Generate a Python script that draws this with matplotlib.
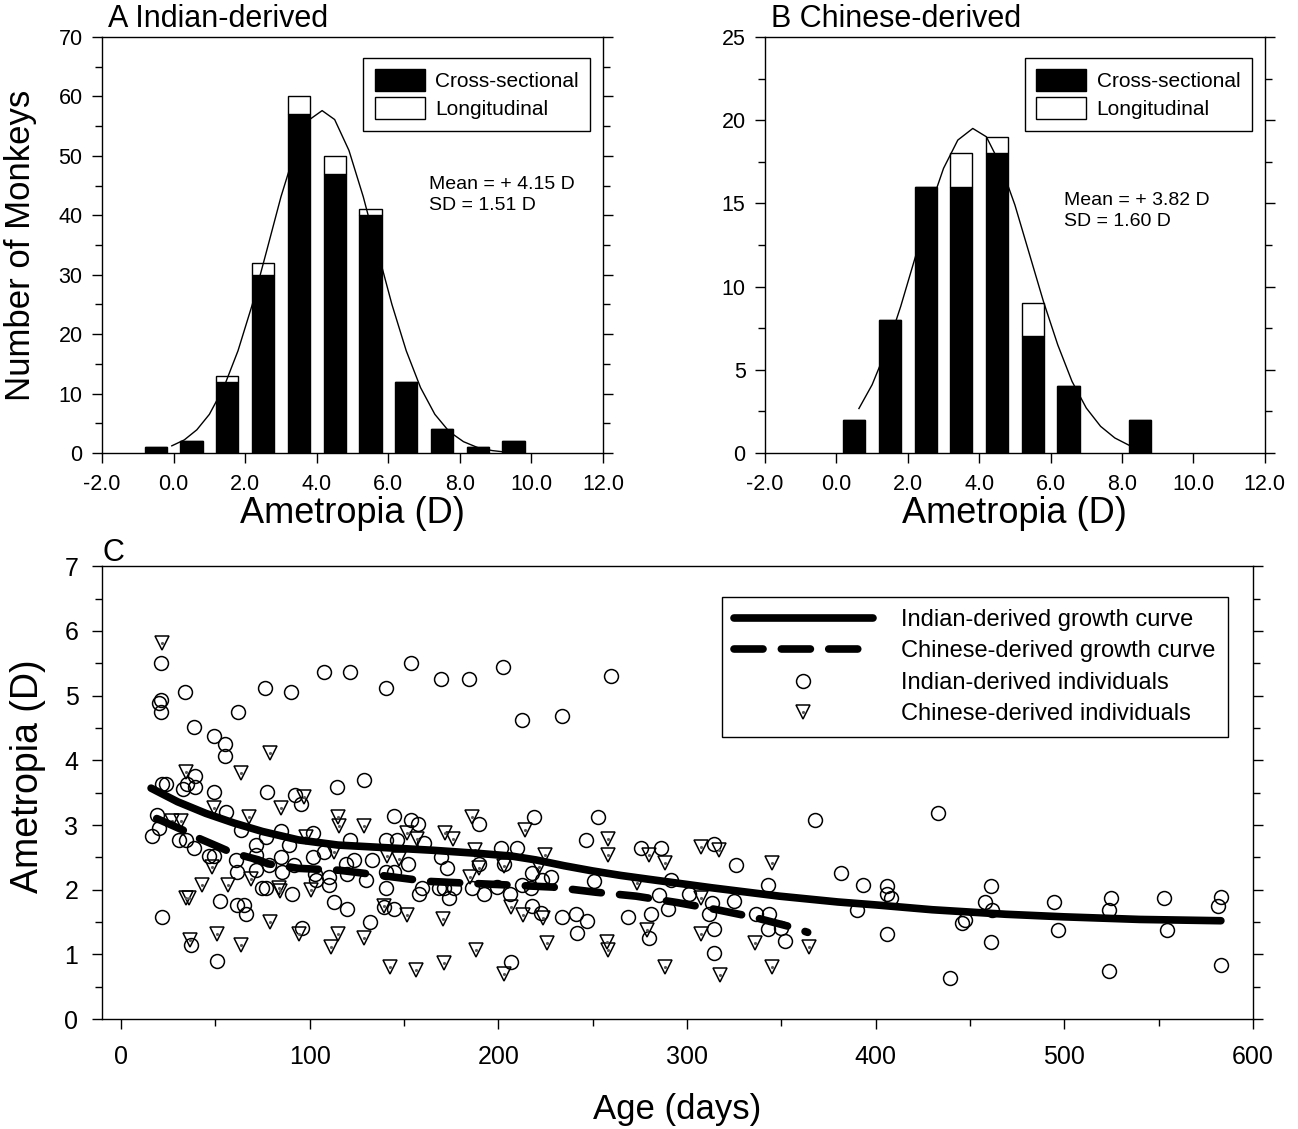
import matplotlib
matplotlib.use('Agg')
import matplotlib.pyplot as plt
from matplotlib.ticker import MultipleLocator
from matplotlib.legend_handler import HandlerTuple

plt.rcParams['font.family'] = ['Liberation Sans', 'DejaVu Sans']

#%% ------------------------------------------------
#  Histogram data (bin centres, counts)
bins_a = [-0.5, 0.5, 1.5, 2.5, 3.5, 4.5, 5.5, 6.5, 7.5, 8.5, 9.5]
cross_a = [1, 2, 12, 30, 57, 47, 40, 12, 4, 1, 2]
longi_a = [0, 0, 1, 2, 3, 3, 1, 0, 0, 0, 0]

bins_b = [0.5, 1.5, 2.5, 3.5, 4.5, 5.5, 6.5, 8.5]
cross_b = [2, 8, 16, 16, 18, 7, 4, 2]
longi_b = [0, 0, 0, 2, 1, 2, 0, 0]

# normal curves
curve_a_x = [-0.05, 0.3, 0.65, 1.0, 1.4, 1.8, 2.2, 2.6, 3.0, 3.4, 3.8, 4.15, 4.5,
             4.9, 5.3, 5.7, 6.1, 6.5, 6.9, 7.3, 7.7, 8.1, 8.5, 8.9, 9.2]
curve_a_y = [1.2, 2.2, 3.9, 6.5, 11.0, 17.2, 25.0, 34.0, 43.1, 50.9, 56.1, 57.6, 56.1,
             50.9, 43.1, 34.0, 25.0, 17.2, 11.0, 6.5, 3.6, 1.9, 0.9, 0.4, 0.2]

curve_b_x = [0.63, 1.0, 1.4, 1.8, 2.2, 2.6, 3.0, 3.4, 3.82, 4.2, 4.6, 5.0, 5.4,
             5.8, 6.2, 6.6, 7.0, 7.4, 7.8, 8.2]
curve_b_y = [2.67, 4.1, 6.2, 8.8, 11.7, 14.6, 17.1, 18.8, 19.5, 19.0, 17.3, 14.9, 12.0,
             9.1, 6.5, 4.3, 2.7, 1.6, 0.9, 0.46]

hist_xticks = [-2, 0, 2, 4, 6, 8, 10, 12]
hist_xticklabels = ['-2.0', '0.0', '2.0', '4.0', '6.0', '8.0', '10.0', '12.0']

#%% ------------------------------------------------
#  Growth curves
indian_curve_age = [16, 30, 45, 60, 75, 94, 115, 140, 165, 190, 207, 220, 235, 250, 265,
                    280, 313, 349, 380, 402, 430, 469, 500, 540, 583]
indian_curve_val = [3.57, 3.36, 3.18, 3.03, 2.90, 2.77, 2.69, 2.65, 2.61, 2.56, 2.52, 2.46,
                    2.37, 2.29, 2.22, 2.16, 2.03, 1.90, 1.81, 1.76, 1.69, 1.62, 1.58, 1.54,
                    1.52]

chinese_curve_age = [19, 33, 40, 52, 59, 73, 78, 94, 116, 138, 162, 184, 207, 229, 252,
                     273, 295, 316, 336, 357, 364]
chinese_curve_val = [3.10, 2.92, 2.81, 2.66, 2.57, 2.46, 2.40, 2.33, 2.30, 2.22, 2.13, 2.10,
                     2.07, 2.04, 1.96, 1.90, 1.80, 1.69, 1.57, 1.41, 1.34]

# individuals
indian_age = [21.4, 33.9, 76.3, 90.4, 21.4, 20.1, 21.4, 62.2, 38.9, 49.3, 55.1, 55.1, 39.2,
              107.7, 121.4, 140.3, 153.5, 169.4, 184.7,
              202.6, 259.5, 212.7, 233.7,
              21.9, 23.7, 33.0, 35.0, 39.4,
              49.3, 77.2, 92.5, 95.7, 55.5, 19.2, 20.1, 16.6, 63.4, 84.6, 76.7, 89.0, 102.0,
              30.7, 34.3, 38.7, 71.4, 102.0, 46.6, 49.3, 60.8, 71.4, 85.0, 78.4, 91.7, 85.5,
              61.7, 71.4, 103.0, 74.9, 76.7, 90.5, 52.5, 61.7, 65.2, 66.1, 21.9, 96.1, 36.9,
              51.0,
              128.8, 114.6, 144.7, 189.7, 153.5, 157.5, 121.2, 140.3, 146.5, 160.6, 201.2,
              107.6, 169.4, 123.5, 133.2, 152.3, 189.7, 203.0, 119.1, 173.0, 140.3, 144.7,
              110.2, 119.9, 129.7, 103.2, 110.2, 140.3, 159.7, 157.9, 168.5, 171.2, 176.5,
              186.2, 192.4, 173.8, 199.4, 112.9, 119.6, 139.4, 144.7, 132.0, 206.7,
              218.9, 252.9, 246.6, 209.7, 218.0, 227.7, 223.3, 212.4, 217.1, 206.1, 250.7,
              275.7, 286.5, 291.3, 301.0, 314.3, 326.1, 343.0, 367.8, 381.9, 393.2, 389.9,
              218.0, 222.9, 233.9, 241.0, 247.1, 241.8, 268.8, 281.0, 290.0, 285.1, 313.4,
              311.6, 324.8, 279.8, 314.3, 314.3, 352.2, 343.0, 349.6, 336.8, 343.4,
              433.1, 406.1, 406.1, 408.4, 406.1, 439.3, 445.8, 447.3, 458.2, 461.2, 461.7,
              461.2, 494.4, 496.5, 524.9, 523.6, 523.6, 552.7, 554.5, 583.3, 581.5, 582.8]
indian_ametropia = [5.50, 5.06, 5.12, 5.06, 4.94, 4.88, 4.75, 4.75, 4.51, 4.37, 4.25, 4.07, 3.76,
                    5.37, 5.37, 5.12, 5.50, 5.25, 5.25,
                    5.45, 5.30, 4.63, 4.69,
                    3.64, 3.64, 3.56, 3.64, 3.58,
                    3.51, 3.51, 3.46, 3.33, 3.20, 3.15, 2.95, 2.83, 2.92, 2.90, 2.82, 2.69, 2.87,
                    2.77, 2.77, 2.64, 2.69, 2.51, 2.52, 2.52, 2.46, 2.53, 2.51, 2.38, 2.38, 2.28,
                    2.28, 2.30, 2.25, 2.02, 2.02, 1.94, 1.83, 1.76, 1.76, 1.63, 1.58, 1.40, 1.14,
                    0.89,
                    3.69, 3.58, 3.14, 3.01, 3.08, 3.01, 2.77, 2.77, 2.77, 2.72, 2.65,
                    2.59, 2.50, 2.46, 2.46, 2.40, 2.40, 2.40, 2.40, 2.33, 2.28, 2.28,
                    2.20, 2.25, 2.15, 2.15, 2.07, 2.02, 2.02, 1.94, 2.02, 2.02, 2.02,
                    2.02, 1.94, 1.87, 2.04, 1.81, 1.70, 1.73, 1.70, 1.50, 0.88,
                    3.13, 3.13, 2.77, 2.64, 2.26, 2.20, 2.15, 2.07, 2.02, 1.94, 2.14,
                    2.64, 2.64, 2.15, 1.94, 2.70, 2.38, 2.07, 3.07, 2.26, 2.07, 1.68,
                    1.75, 1.64, 1.58, 1.63, 1.52, 1.33, 1.58, 1.63, 1.70, 1.92, 1.79,
                    1.63, 1.82, 1.26, 1.39, 1.02, 1.21, 1.39, 1.40, 1.63, 1.63,
                    3.19, 2.06, 1.94, 1.87, 1.31, 0.63, 1.49, 1.53, 1.81, 2.05, 1.69,
                    1.19, 1.81, 1.38, 1.87, 1.69, 0.75, 1.87, 1.38, 1.88, 1.75, 0.83]

chinese_age = [21.9, 79.0, 34.3, 63.4, 97.0, 84.6, 49.3, 67.8, 27.0, 32.0, 97.9, 48.4, 68.7,
               83.7, 84.5, 100.5, 42.8, 56.9, 34.3, 36.0, 78.8, 94.3, 50.7, 36.6, 63.4,
               185.9, 115.2, 115.5, 128.8, 151.7, 157.0, 171.7, 176.0, 112.9, 141.1, 147.6,
               187.9, 190.0, 203.0, 185.0, 139.4, 151.7, 170.6, 115.2, 128.8, 111.1, 188.0,
               142.5, 156.5, 171.2, 203.0,
               214.0, 258.2, 258.2, 225.0, 221.5, 280.1, 288.3, 273.3, 307.7, 317.2, 345.1,
               206.8, 213.2, 223.8, 307.2, 278.9, 307.2, 225.9, 257.7, 258.2, 288.3, 317.3,
               336.3, 345.1, 364.6]
chinese_ametropia = [5.81, 4.11, 3.82, 3.80, 3.44, 3.26, 3.26, 3.13, 3.06, 3.06, 2.82, 2.35, 2.17,
                     2.02, 1.98, 1.99, 2.07, 2.07, 1.87, 1.87, 1.50, 1.32, 1.32, 1.22, 1.14,
                     3.13, 3.13, 2.98, 2.98, 2.88, 2.79, 2.88, 2.79, 2.59, 2.52, 2.48,
                     2.62, 2.33, 2.36, 2.20, 1.75, 1.61, 1.54, 1.32, 1.25, 1.12, 1.07,
                     0.81, 0.76, 0.87, 0.70,
                     2.92, 2.79, 2.53, 2.53, 2.35, 2.53, 2.42, 2.10, 2.66, 2.61, 2.42,
                     1.73, 1.61, 1.56, 1.87, 1.38, 1.31, 1.18, 1.19, 1.07, 0.81, 0.68,
                     1.18, 0.81, 1.12]


#%% ------------------------------------------------
#  Function for the two histogram panels
def histogram_panel(ax, bins, cross, longi, cx, cy, ymax, ymajor, title, stats):

	ax.bar(bins, cross, width=0.62, color='black', edgecolor='black', linewidth=1, zorder=2,
		   label='Cross-sectional')
	ax.bar(bins, longi, width=0.62, bottom=cross, color='white', edgecolor='black',
		   linewidth=1, zorder=2, label='Longitudinal')
	ax.plot(cx, cy, color='black', linewidth=1, zorder=3)

	ax.set_xlim(-2, 12)
	ax.set_ylim(0, ymax)
	ax.set_xticks(hist_xticks)
	ax.set_xticklabels(hist_xticklabels)
	ax.yaxis.set_major_locator(MultipleLocator(ymajor))
	ax.yaxis.set_minor_locator(MultipleLocator(ymajor / 2))
	ax.tick_params(axis='both', which='both', direction='out', width=1, right=True, top=False)
	ax.tick_params(axis='both', which='major', length=7, labelsize=15.5)
	ax.tick_params(axis='y', which='minor', length=5)
	ax.tick_params(axis='x', which='major', pad=8)
	ax.tick_params(axis='y', which='major', pad=7)
	for sp in ax.spines.values():
		sp.set_linewidth(1)

	ax.set_xlabel('Ametropia (D)', fontsize=26)
	ax.xaxis.set_label_coords(0.5, -0.103)

	ax.text(0.012, 1.042, title, transform=ax.transAxes, fontsize=22, ha='left', va='center')
	ax.text(stats[0], stats[1], stats[2], transform=ax.transAxes, fontsize=14,
			ha='left', va='top', linespacing=1.3)

	leg = ax.legend(loc='upper right', bbox_to_anchor=(0.974, 0.95), borderaxespad=0,
					fontsize=15, handlelength=2.4, handleheight=1.25, handletextpad=0.5,
					labelspacing=0.28, borderpad=0.55, fancybox=False, framealpha=1,
					edgecolor='black')
	leg.get_frame().set_linewidth(1)


fig = plt.figure(figsize=(12.98, 11.29), dpi=100)

ax_a = fig.add_axes([0.0786, 0.5988, 0.3860, 0.3685])
ax_b = fig.add_axes([0.5894, 0.5988, 0.385, 0.3685])
ax_c = fig.add_axes([0.0786, 0.0974, 0.8867, 0.401])

histogram_panel(ax_a, bins_a, cross_a, longi_a, curve_a_x, curve_a_y, 70, 10,
				'A Indian-derived', (0.652, 0.665, 'Mean = + 4.15 D\nSD = 1.51 D'))
ax_a.set_ylabel('Number of Monkeys', fontsize=25)
ax_a.yaxis.set_label_coords(-0.129, 0.5)

histogram_panel(ax_b, bins_b, cross_b, longi_b, curve_b_x, curve_b_y, 25, 5,
				'B Chinese-derived', (0.598, 0.628, 'Mean = + 3.82 D\nSD = 1.60 D'))


#%% ------------------------------------------------
#  Panel C: ametropia vs age
circ, = ax_c.plot(indian_age, indian_ametropia, linestyle='none', marker='o', markersize=10,
				  markerfacecolor='none', markeredgecolor='black', markeredgewidth=1.1, zorder=2)
tri, = ax_c.plot(chinese_age, chinese_ametropia, linestyle='none', marker='v', markersize=10.5,
				 markerfacecolor='none', markeredgecolor='black', markeredgewidth=1.1, zorder=2)
dot, = ax_c.plot(chinese_age, chinese_ametropia, linestyle='none', marker='.', markersize=2.5,
				 color='0.35', zorder=2)

ln_in, = ax_c.plot(indian_curve_age, indian_curve_val, color='black', linewidth=5.5,
				   solid_capstyle='round', zorder=4)
ln_cn, = ax_c.plot(chinese_curve_age, chinese_curve_val, color='black', linewidth=5.5,
				   dashes=(3.8, 2.4), dash_capstyle='round', zorder=4)

ax_c.set_xlim(-10, 600)
ax_c.set_ylim(0, 7)
ax_c.xaxis.set_major_locator(MultipleLocator(100))
ax_c.xaxis.set_minor_locator(MultipleLocator(50))
ax_c.yaxis.set_major_locator(MultipleLocator(1))
ax_c.yaxis.set_minor_locator(MultipleLocator(0.5))
ax_c.tick_params(axis='both', which='both', direction='out', width=1, right=True, top=False)
ax_c.tick_params(axis='both', which='major', length=7, labelsize=18)
ax_c.tick_params(axis='both', which='minor', length=5)
ax_c.tick_params(axis='x', which='major', pad=12)
ax_c.tick_params(axis='y', which='major', pad=10)
for sp in ax_c.spines.values():
	sp.set_linewidth(1)

ax_c.set_xlabel('Age (days)', fontsize=25)
ax_c.xaxis.set_label_coords(0.5, -0.163)
ax_c.set_ylabel('Ametropia (D)', fontsize=27)
ax_c.yaxis.set_label_coords(-0.049, 0.536)
ax_c.text(0.0, 1.03, 'C', transform=ax_c.transAxes, fontsize=22, ha='left', va='center')

leg_c = ax_c.legend([ln_in, ln_cn, circ, (tri, dot)],
					['Indian-derived growth curve', 'Chinese-derived growth curve',
					 'Indian-derived individuals', 'Chinese-derived individuals'],
					handler_map={tuple: HandlerTuple(ndivide=1)},
					loc='upper right', bbox_to_anchor=(0.978, 0.932), borderaxespad=0,
					fontsize=17, handlelength=5.9, handletextpad=1.2, labelspacing=0.4,
					borderpad=0.5, numpoints=1, fancybox=False, framealpha=1, edgecolor='black')
leg_c.get_frame().set_linewidth(1)

plt.savefig('out.png', dpi=100)
plt.close()
